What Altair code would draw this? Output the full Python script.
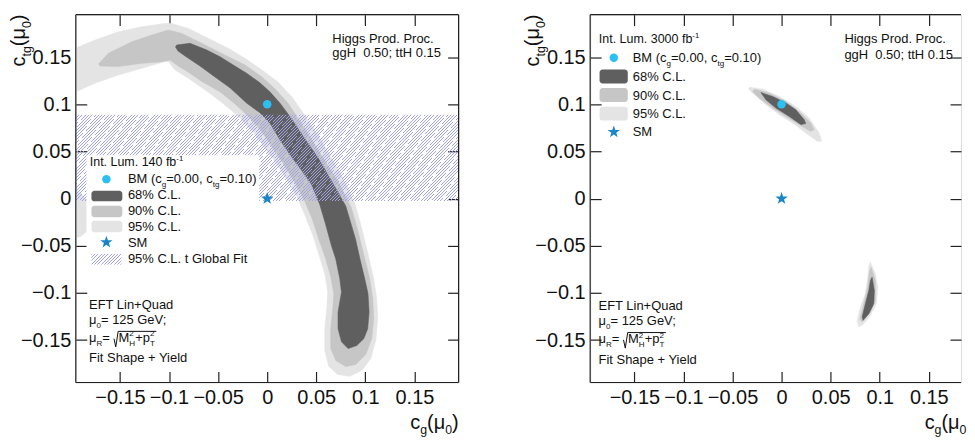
import altair as alt
import pandas as pd

FONT = "Liberation Sans"
W, H = 384, 369          # left panel plot size
WR = 372                 # right panel is cut off by the window in the reference
PXU = W / 0.39           # pixels per unit on both axes
DOM = [-0.195, 0.195]
DOM_R = [-0.195, -0.195 + WR / PXU]
TICKS = [-0.15, -0.1, -0.05, 0.0, 0.05, 0.1, 0.15]

C68, C90, C95 = "#5f5f5f", "#c6c6c6", "#e4e4e4"
CBM, CSM, CHATCH = "#2cc0f2", "#1a86c8", "#a0a3e8"

# ---------------- Left panel: Int. Lum. 140 fb-1 ----------------
L68_X = [-0.0922, -0.0786, -0.0616, -0.0481, -0.0346, -0.0210, -0.0074, 0.0027, 0.0129, 0.0231,
         0.0366, 0.0530, 0.0665, 0.0800, 0.0855, 0.0900, 0.0945, 0.0994, 0.1027, 0.1038,
         0.1024, 0.0984, 0.0913, 0.0824, 0.0757, 0.0722, 0.0722, 0.0757, 0.0740, 0.0699,
         0.0655, 0.0595, 0.0535, 0.0450, 0.0345, 0.0231, 0.0129, 0.0027, -0.0074, -0.0210,
         -0.0379, -0.0532, -0.0685, -0.0837, -0.0908, -0.0934]
L68_Y = [0.1628, 0.1646, 0.1575, 0.1504, 0.1416, 0.1329, 0.1227, 0.1132, 0.1013, 0.0871,
         0.0660, 0.0415, 0.0169, -0.0078, -0.0271, -0.0430, -0.0641, -0.0852, -0.1009, -0.1203,
         -0.1379, -0.1485, -0.1558, -0.1590, -0.1519, -0.1379, -0.1203, -0.0992, -0.0851, -0.0641,
         -0.0500, -0.0271, -0.0060, 0.0151, 0.0309, 0.0467, 0.0626, 0.0802, 0.0910, 0.1013,
         0.1174, 0.1290, 0.1406, 0.1512, 0.1564, 0.1607]

L90_X = [-0.1719, -0.1617, -0.1379, -0.1176, -0.1007, -0.0871, -0.0667, -0.0430, -0.0227, -0.0054,
         0.0089, 0.0211, 0.0312, 0.0434, 0.0580, 0.0725, 0.0855, 0.0925, 0.0984, 0.1045,
         0.1075, 0.1085, 0.1065, 0.1004, 0.0902, 0.0801, 0.0699, 0.0648, 0.0648, 0.0668,
         0.0679, 0.0648, 0.0597, 0.0526, 0.0460, 0.0375, 0.0282, 0.0170, 0.0048, -0.0054,
         -0.0176, -0.0329, -0.0481, -0.0664, -0.0807, -0.0908, -0.0990, -0.1092, -0.1278, -0.1516,
         -0.1702]
L90_Y = [0.1427, 0.1540, 0.1662, 0.1733, 0.1786, 0.1751, 0.1646, 0.1522, 0.1416, 0.1290,
         0.1153, 0.1013, 0.0855, 0.0657, 0.0415, 0.0172, -0.0092, -0.0346, -0.0599, -0.0851,
         -0.1062, -0.1273, -0.1485, -0.1653, -0.1759, -0.1781, -0.1716, -0.1590, -0.1379, -0.1168,
         -0.1009, -0.0830, -0.0641, -0.0430, -0.0219, -0.0007, 0.0172, 0.0362, 0.0552, 0.0710,
         0.0858, 0.1005, 0.1132, 0.1241, 0.1343, 0.1406, 0.1469, 0.1448, 0.1435, 0.1399,
         0.1406]

L95_X = [-0.2000, -0.1753, -0.1516, -0.1278, -0.1041, -0.0973, -0.0804, -0.0600, -0.0397, -0.0227,
         -0.0054, 0.0109, 0.0251, 0.0363, 0.0495, 0.0635, 0.0775, 0.0895, 0.0965, 0.1024,
         0.1085, 0.1116, 0.1126, 0.1106, 0.1055, 0.0963, 0.0841, 0.0719, 0.0628, 0.0587,
         0.0587, 0.0607, 0.0617, 0.0587, 0.0526, 0.0465, 0.0390, 0.0305, 0.0200, 0.0090,
         -0.0034, -0.0156, -0.0298, -0.0471, -0.0634, -0.0804, -0.0939, -0.1007, -0.1041, -0.1278,
         -0.1516, -0.1753, -0.2000]
L95_Y = [0.1575, 0.1680, 0.1768, 0.1821, 0.1857, 0.1857, 0.1804, 0.1698, 0.1593, 0.1487,
         0.1364, 0.1237, 0.1079, 0.0910, 0.0710, 0.0467, 0.0214, -0.0060, -0.0324, -0.0577,
         -0.0851, -0.1062, -0.1273, -0.1505, -0.1695, -0.1822, -0.1885, -0.1864, -0.1780, -0.1611,
         -0.1379, -0.1168, -0.0988, -0.0799, -0.0588, -0.0388, -0.0188, 0.0014, 0.0204, 0.0383,
         0.0552, 0.0721, 0.0879, 0.1027, 0.1153, 0.1276, 0.1364, 0.1452, 0.1452, 0.1382,
         0.1311, 0.1224, 0.1111]

L95B_X = [-0.2000, -0.1900, -0.1820, -0.1780, -0.1800, -0.1830, -0.1900, -0.2000]
L95B_Y = [0.0100, 0.0060, -0.0050, -0.0200, -0.0300, -0.0340, -0.0400, -0.0430]

BAND_LO = [-0.0025]
BAND_HI = [0.089]

# ---------------- Right panel: Int. Lum. 3000 fb-1 ----------------
R68A_X = [-0.0210, -0.0091, 0.0044, 0.0145, 0.0230, 0.0246, 0.0196, 0.0078, -0.0058, -0.0159]
R68A_Y = [0.1124, 0.1082, 0.1013, 0.0942, 0.0837, 0.0795, 0.0785, 0.0871, 0.0960, 0.1047]
R90A_X = [-0.0277, -0.0125, 0.0044, 0.0179, 0.0297, 0.0331, 0.0297, 0.0179, 0.0044, -0.0091,
          -0.0226, -0.0294]
R90A_Y = [0.1160, 0.1118, 0.1030, 0.0924, 0.0802, 0.0731, 0.0713, 0.0784, 0.0871, 0.0960,
          0.1065, 0.1135]
R95A_X = [-0.0327, -0.0193, -0.0023, 0.0145, 0.0281, 0.0382, 0.0408, 0.0365, 0.0246, 0.0111,
          -0.0023, -0.0159, -0.0294, -0.0335]
R95A_Y = [0.1181, 0.1160, 0.1082, 0.0977, 0.0854, 0.0696, 0.0608, 0.0608, 0.0696, 0.0802,
          0.0889, 0.0995, 0.1118, 0.1160]

R68B_X = [0.0922, 0.0945, 0.0939, 0.0889, 0.0831, 0.0821, 0.0854, 0.0889, 0.0905]
R68B_Y = [-0.0833, -0.0975, -0.1115, -0.1220, -0.1291, -0.1255, -0.1115, -0.0975, -0.0869]
R90B_X = [0.0912, 0.0955, 0.0955, 0.0905, 0.0821, 0.0797, 0.0838, 0.0878, 0.0895]
R90B_Y = [-0.0728, -0.0869, -0.1080, -0.1203, -0.1308, -0.1273, -0.1115, -0.0939, -0.0781]
R95B_X = [0.0905, 0.0955, 0.0980, 0.0966, 0.0905, 0.0838, 0.0787, 0.0770, 0.0803, 0.0854,
          0.0878, 0.0889]
R95B_Y = [-0.0675, -0.0799, -0.0939, -0.1115, -0.1238, -0.1326, -0.1361, -0.1291, -0.1150, -0.1009,
          -0.0833, -0.0711]

BM_X, BM_Y = [0.0], [0.10]
SM_X, SM_Y = [0.0], [0.0]

STAR = ("M0,-1L0.235,-0.324L0.951,-0.309L0.38,0.124L0.588,0.809L0,0.4L-0.588,0.809"
        "L-0.38,0.124L-0.951,-0.309L-0.235,-0.324Z")

# ---------------- helpers ----------------
LABEL_EXPR = "replace(format(datum.value, '~g'), '-', '\u2212')"


def axis(orient, labels):
    kw = dict(orient=orient, values=TICKS, offset=-11, tickSize=11, tickColor="#222",
              tickWidth=1.2, domain=False, grid=False, title=None, labels=labels,
              labelOverlap=False, labelFlush=False)
    if labels:
        kw.update(labelFont=FONT, labelFontSize=20, labelColor="#111", labelExpr=LABEL_EXPR,
                  labelPadding=5)
    return alt.Axis(**kw)


AX_B, AX_L, AX_T, AX_R = axis("bottom", True), axis("left", True), axis("top", False), axis("right", False)


class Panel:
    def __init__(self, xdom):
        self.sx = alt.Scale(domain=xdom, nice=False, zero=False)
        self.sy = alt.Scale(domain=DOM, nice=False, zero=False)

    def ex(self):
        return alt.X("x:Q", scale=self.sx, axis=AX_B)

    def ey(self):
        return alt.Y("y:Q", scale=self.sy, axis=AX_L)

    def poly(self, xs, ys, color):
        df = pd.DataFrame({"x": xs + xs[:1], "y": ys + ys[:1], "i": list(range(len(xs) + 1))})
        return alt.Chart(df).mark_line(fill=color, stroke=color, strokeWidth=0.6, clip=True,
                                       interpolate="linear").encode(
            x=self.ex(), y=self.ey(), order=alt.Order("i:Q"))

    def points(self):
        bm = alt.Chart(pd.DataFrame({"x": BM_X, "y": BM_Y})).mark_point(
            filled=True, shape="circle", size=72, color=CBM, opacity=1).encode(x=self.ex(), y=self.ey())
        sm = alt.Chart(pd.DataFrame({"x": SM_X, "y": SM_Y})).mark_point(
            filled=True, shape=STAR, size=170, color=CSM, opacity=1).encode(x=self.ex(), y=self.ey())
        return [bm, sm]

    def frame_axes(self):
        return alt.Chart(pd.DataFrame({"x": BM_X, "y": BM_Y})).mark_point(opacity=0).encode(
            x=alt.X("x:Q", scale=self.sx, axis=AX_T), y=alt.Y("y:Q", scale=self.sy, axis=AX_R))


ONE = pd.DataFrame({"a": [0]})

AW = {" ": 278, "\u00a0": 278, "(": 333, ")": 333, "+": 584, ",": 278, "-": 333, ".": 278,
      ";": 278, "=": 584, "%": 889, "B": 667, "C": 722, "E": 667, "F": 611, "G": 778, "H": 722,
      "I": 278, "L": 556, "M": 833, "P": 667, "Q": 778, "R": 722, "S": 667, "T": 611, "V": 667,
      "Y": 667, "a": 556, "b": 556, "c": 500, "d": 556, "e": 556, "f": 278, "g": 556, "h": 556,
      "i": 222, "l": 222, "m": 833, "n": 556, "o": 556, "p": 556, "r": 333, "s": 500, "t": 278,
      "u": 556, "\u03bc": 576}


def tw(s, size):
    return sum(AW.get(ch, 556) for ch in s) / 1000.0 * size


def txt(x, y, s, size=13, angle=0, color="#111", align="left"):
    return alt.Chart(ONE).mark_text(text=s, font=FONT, fontSize=size, angle=angle, align=align,
                                    baseline="alphabetic", color=color).encode(
        x=alt.value(x), y=alt.value(y))


def rich(x, y, parts, size, angle=0, drop=0.30):
    out = []
    pos = 0.0
    if angle == 0:
        dx, dy, ox, oy = 1, 0, 0, 1
    else:
        dx, dy, ox, oy = 0, -1, 1, 0
    small = size * 0.62
    for text, kind in parts:
        if kind == "stack":
            sup, sub = text
            for t, off in ((sup, -0.42 * size), (sub, 0.30 * size)):
                out.append(txt(x + dx * pos + ox * off, y + dy * pos + oy * off, t, small, angle))
            pos += max(tw(sup, small), tw(sub, small))
            continue
        if kind == "n":
            s, off = size, 0.0
        elif kind == "sub":
            s, off = small, drop * size
        else:
            s, off = small, -0.42 * size
        out.append(txt(x + dx * pos + ox * off, y + dy * pos + oy * off, text, s, angle))
        pos += tw(text, s)
    return out, pos


def seg(x1, y1, x2, y2, w=1.0, color="#111"):
    return alt.Chart(ONE).mark_rule(color=color, strokeWidth=w).encode(
        x=alt.value(x1), y=alt.value(y1), x2=alt.value(x2), y2=alt.value(y2))


def box(x1, x2, y1, y2, color, radius=0, opacity=1.0):
    return alt.Chart(ONE).mark_rect(fill=color, cornerRadius=radius, opacity=opacity).encode(
        x=alt.value(x1), x2=alt.value(x2), y=alt.value(y1), y2=alt.value(y2))


def hatch(w, h, period=3.3, frac=0.28):
    """diagonal '/' line fill expressed as a striped linear gradient over a w x h box"""
    k = (w + h) / (w * w + h * h)
    clear = "rgba(255,255,255,0)"
    stops = []
    i = 0
    while i * period < w + h:
        a = i * period / (w + h)
        b = min((i + frac) * period / (w + h), 1.0)
        c = min((i + 1) * period / (w + h), 1.0)
        stops += [{"offset": a, "color": CHATCH}, {"offset": b, "color": CHATCH},
                  {"offset": b, "color": clear}, {"offset": c, "color": clear}]
        i += 1
    return {"gradient": "linear", "x1": 0, "y1": 0, "x2": k * w, "y2": k * h, "stops": stops}


def dot(x, y, shape, size, color):
    return alt.Chart(ONE).mark_point(filled=True, shape=shape, size=size, color=color,
                                     opacity=1).encode(x=alt.value(x), y=alt.value(y))


def info_block(x0, ys):
    out = [txt(x0, ys[0], "EFT Lin+Quad")]
    out += rich(x0, ys[1], [("\u03bc", "n"), ("0", "sub"), ("\u00a0= 125 GeV;", "n")], 13)[0]
    parts, p = rich(x0, ys[2], [("\u03bc", "n"), ("R", "sub"), ("\u00a0=", "n")], 13)
    out += parts
    b = ys[2]
    rx = x0 + p + 0.5
    out += [seg(rx, b - 3.3, rx + 1.8, b + 5), seg(rx + 1.8, b + 5, rx + 4.2, b - 10.6)]
    parts, q = rich(rx + 4.6, b, [("M", "n"), (("2", "H"), "stack"), ("+p", "n"),
                                  (("2", "T"), "stack")], 13)
    out += parts
    out += [seg(rx + 4.2, b - 10.6, rx + 4.6 + q + 1.5, b - 10.6)]
    out.append(txt(x0, ys[3], "Fit Shape + Yield"))
    return out


def titles(closing=True):
    out = rich(-51, 52, [("c", "n"), ("tg", "sub"), ("(\u03bc", "n"), ("0", "sub"), (")", "n")],
               20, angle=270)[0]
    xparts = [("c", "n"), ("g", "sub"), ("(\u03bc", "n"), ("0", "sub")]
    if closing:
        xparts.append((")", "n"))
    out += rich(335.5, 416, xparts, 20, drop=0.22)[0]
    return out


def frame(w, right=True):
    out = [seg(0, 0, w, 0, 1.2, "#222"), seg(0, H, w, H, 1.2, "#222"), seg(0, 0, 0, H, 1.2, "#222")]
    if right:
        out.append(seg(w, 0, w, H, 1.2, "#222"))
    return out


BM_PARTS = [("BM (c", "n"), ("g", "sub"), ("=0.00, c", "n"), ("tg", "sub"), ("=0.10)", "n")]

# ---------------- left panel ----------------
PL = Panel(DOM)
band_h = (BAND_HI[0] - BAND_LO[0]) * PXU
band = alt.Chart(pd.DataFrame({"y": BAND_LO, "y2": BAND_HI})).mark_rect(
    fill=hatch(W, band_h), opacity=1).encode(y=PL.ey(), y2="y2:Q")

left_layers = [PL.poly(L95_X, L95_Y, C95), PL.poly(L95B_X, L95B_Y, C95),
               PL.poly(L90_X, L90_Y, C90), PL.poly(L68_X, L68_Y, C68), band]
left_layers += PL.points()
left_layers += [txt(257.3, 28.5, "Higgs Prod. Proc."), txt(257.3, 42.5, "ggH\u00a0 0.50; ttH 0.15")]
left_layers += [box(10.7, 184, 141, 253, "white")]
left_layers += rich(14, 151.7, [("Int. Lum. 140 fb", "n"), ("-1", "sup")], 12.5)[0]
left_layers += [dot(30.7, 165, "circle", 72, CBM)]
left_layers += rich(52.3, 169, BM_PARTS, 13)[0]
left_layers += [box(15.7, 46.7, 176.7, 187.3, C68, 3), box(15.7, 46.7, 191.7, 203.3, C90, 3),
                box(15.7, 46.7, 206.7, 218.3, C95, 3)]
left_layers += [txt(52.3, 185, "68% C.L."), txt(52.3, 201, "90% C.L."), txt(52.3, 216.7, "95% C.L.")]
left_layers += [dot(30.7, 228.3, STAR, 170, CSM), txt(52.3, 233.3, "SM")]
left_layers += [box(15.7, 45.7, 240, 250.7, hatch(30, 10.7)), txt(52.3, 249, "95% C.L. t Global Fit")]
left_layers += info_block(13.3, [295.7, 310, 328.3, 348.3])
left_layers += titles(True)
left_layers += frame(W, True)

left = alt.layer(alt.layer(*left_layers), PL.frame_axes()).resolve_axis(
    x="independent", y="independent").properties(width=W, height=H)

# ---------------- right panel ----------------
PR = Panel(DOM_R)
right_layers = [PR.poly(R95A_X, R95A_Y, C95), PR.poly(R90A_X, R90A_Y, C90), PR.poly(R68A_X, R68A_Y, C68),
                PR.poly(R95B_X, R95B_Y, C95), PR.poly(R90B_X, R90B_Y, C90), PR.poly(R68B_X, R68B_Y, C68)]
right_layers += PR.points()
right_layers += [txt(255, 28.5, "Higgs Prod. Proc."), txt(255, 44, "ggH\u00a0 0.50; ttH 0.15")]
right_layers += rich(8.7, 28.3, [("Int. Lum. 3000 fb", "n"), ("-1", "sup")], 12.5)[0]
right_layers += [dot(23.7, 43.3, "circle", 72, CBM)]
right_layers += rich(42.7, 47.8, BM_PARTS, 13)[0]
right_layers += [box(9.4, 37.7, 55, 69, C68, 3), box(9.4, 37.7, 73.7, 87.7, C90, 3),
                 box(9.4, 37.7, 92.3, 106.3, C95, 3)]
right_layers += [txt(42.7, 66.5, "68% C.L."), txt(42.7, 85.2, "90% C.L."), txt(42.7, 103.8, "95% C.L.")]
right_layers += [dot(23.7, 117.7, STAR, 170, CSM), txt(42.7, 122.2, "SM")]
right_layers += info_block(8.4, [296.7, 311, 329.5, 350])
right_layers += titles(False)
right_layers += frame(WR, False)

right = alt.layer(alt.layer(*right_layers), PR.frame_axes()).resolve_axis(
    x="independent", y="independent").properties(width=WR, height=H)

chart = alt.hconcat(left, right, spacing=132, bounds="flush").properties(
    padding={"left": 0, "top": 4, "right": 0, "bottom": 0}
).configure_view(stroke=None).configure(font=FONT)

chart.save("out.html", embed_options={"renderer": "svg", "actions": False})
